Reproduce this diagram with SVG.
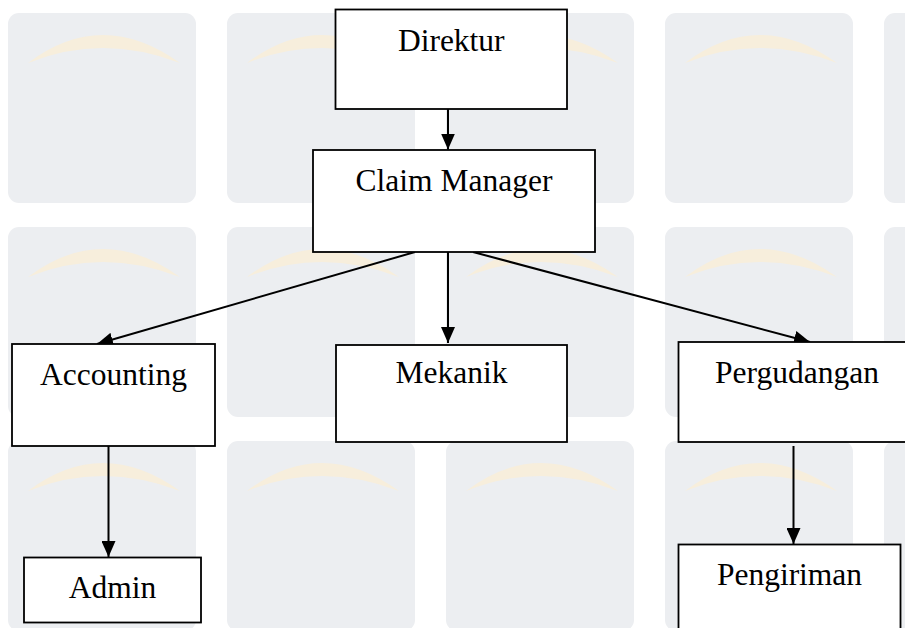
<svg xmlns="http://www.w3.org/2000/svg" xmlns:xlink="http://www.w3.org/1999/xlink" width="905" height="628" viewBox="0 0 905 628">
  <style>
    .box { fill: #ffffff; stroke: #000000; stroke-width: 1.8; }
    .lbl { font-family: "Liberation Serif", "Times New Roman", serif; font-size: 31.5px; fill: #000000; }
    .conn { stroke: #000000; stroke-width: 2; fill: none; }
    .tile { fill: #eceef1; }
    .arc { fill: #f7eedc; }
  </style>
  <defs>
    <marker id="arrow" markerUnits="userSpaceOnUse" markerWidth="16" markerHeight="14" refX="16" refY="7" orient="auto">
      <path d="M0,0 L16,7 L0,14 Z" fill="#000000"/>
    </marker>
    <g id="wm">
      <rect class="tile" x="0" y="0" width="188" height="190" rx="11" ry="11"/>
      <path class="arc" d="M20 50 Q94 -6 172 50 Q94 20 20 50 Z"/>
    </g>
  </defs>
  <rect x="0" y="0" width="905" height="628" fill="#ffffff"/>
  <g id="watermark">
    <use xlink:href="#wm" x="8" y="13"/>
    <use xlink:href="#wm" x="227" y="13"/>
    <use xlink:href="#wm" x="446" y="13"/>
    <use xlink:href="#wm" x="665" y="13"/>
    <use xlink:href="#wm" x="884" y="13"/>
    <use xlink:href="#wm" x="8" y="227"/>
    <use xlink:href="#wm" x="227" y="227"/>
    <use xlink:href="#wm" x="446" y="227"/>
    <use xlink:href="#wm" x="665" y="227"/>
    <use xlink:href="#wm" x="884" y="227"/>
    <use xlink:href="#wm" x="8" y="441"/>
    <use xlink:href="#wm" x="227" y="441"/>
    <use xlink:href="#wm" x="446" y="441"/>
    <use xlink:href="#wm" x="665" y="441"/>
    <use xlink:href="#wm" x="884" y="441"/>
  </g>
  <g id="connectors">
    <line class="conn" x1="448" y1="109" x2="448" y2="149.5" marker-end="url(#arrow)"/>
    <line class="conn" x1="415" y1="252" x2="97" y2="344" marker-end="url(#arrow)"/>
    <line class="conn" x1="448" y1="252" x2="448" y2="343" marker-end="url(#arrow)"/>
    <line class="conn" x1="473" y1="252" x2="810" y2="342" marker-end="url(#arrow)"/>
    <line class="conn" x1="108.5" y1="446" x2="108.5" y2="557" marker-end="url(#arrow)"/>
    <line class="conn" x1="793.5" y1="446" x2="793.5" y2="544" marker-end="url(#arrow)"/>
  </g>
  <g id="node-direktur">
    <rect class="box" x="335.5" y="9.5" width="231.5" height="99.5"/>
    <text class="lbl" x="451.25" y="50.7" text-anchor="middle">Direktur</text>
  </g>
  <g id="node-claim-manager">
    <rect class="box" x="313" y="150" width="282" height="102"/>
    <text class="lbl" x="454" y="190.7" text-anchor="middle">Claim Manager</text>
  </g>
  <g id="node-accounting">
    <rect class="box" x="12" y="344" width="203" height="102"/>
    <text class="lbl" x="113.5" y="385" text-anchor="middle">Accounting</text>
  </g>
  <g id="node-mekanik">
    <rect class="box" x="336" y="345" width="231" height="97"/>
    <text class="lbl" x="451.5" y="383.3" text-anchor="middle">Mekanik</text>
  </g>
  <g id="node-pergudangan">
    <rect class="box" x="678.5" y="342" width="240" height="100"/>
    <text class="lbl" x="715" y="382.7">Pergudangan</text>
  </g>
  <g id="node-admin">
    <rect class="box" x="24" y="557.5" width="177" height="65"/>
    <text class="lbl" x="112.5" y="598.3" text-anchor="middle">Admin</text>
  </g>
  <g id="node-pengiriman">
    <rect class="box" x="678.5" y="544.5" width="222" height="100"/>
    <text class="lbl" x="789.5" y="585" text-anchor="middle">Pengiriman</text>
  </g>
</svg>
